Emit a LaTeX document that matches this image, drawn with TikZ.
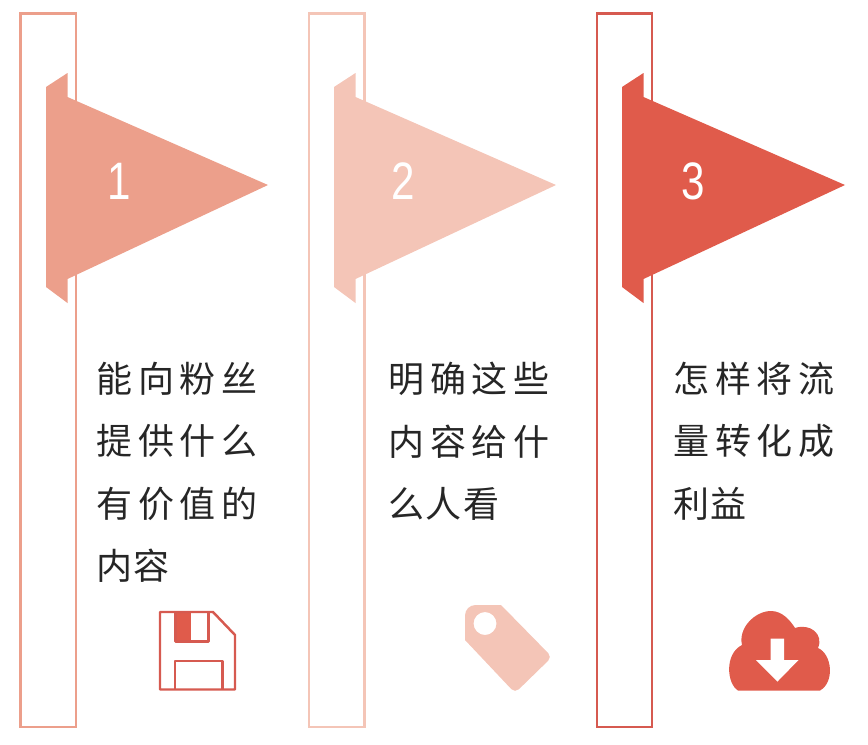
\documentclass[tikz,border=0pt]{standalone}
\usepackage{fontspec}
\newfontfamily\cjkfont[LetterSpace=16]{Noto Sans CJK SC}
\newfontfamily\cjktight[LetterSpace=4]{Noto Sans CJK SC}
\newfontfamily\numfont[FakeStretch=0.8]{Liberation Sans}
\definecolor{salmon}{HTML}{EC9F8B}
\definecolor{blush}{HTML}{F4C5B7}
\definecolor{brick}{HTML}{E05B4B}
\definecolor{brickline}{HTML}{D65A50}
\tikzset{
  pole/.style={draw=#1,line width=1.4pt},
  numlabel/.style={text=white,font=\numfont\fontsize{30}{30}\selectfont,inner sep=0pt},
  bodytext/.style={anchor=north west,align=left,inner sep=0pt,text=black!85,
    font=\cjkfont\fontsize{20.5}{35.4}\selectfont}
}
\begin{document}
\begin{tikzpicture}[x=0.02cm,y=-0.02cm]
        \useasboundingbox (0,0) rectangle (868,744);

        \draw[pole=salmon] (20.5,13.5) rectangle (76,727);
        \draw[pole=blush]  (309,13.5) rectangle (364.5,727);
        \draw[pole=brickline]  (597,13.5) rectangle (652,727);

        \fill[salmon] (46,87) -- (67.5,73) -- (67.5,97) -- (268,185) -- (67.5,279) -- (67.5,303) -- (46,287) -- cycle;
        \fill[blush]  (334,87) -- (355.5,73) -- (355.5,97) -- (556,185) -- (355.5,279) -- (355.5,303) -- (334,287) -- cycle;
        \fill[brick]  (622,87) -- (643.5,73) -- (643.5,97) -- (845,185) -- (643.5,279) -- (643.5,303) -- (622,287) -- cycle;

        \begin{scope}[every node/.style={numlabel}]
          \node (num1) at (119,181) {1};
          \node (num2) at (403,181) {2};
          \node (num3) at (693,181) {3};
        \end{scope}

        \begin{scope}[every node/.style={bodytext}]
          \node (text1) at (96,362) {能向粉丝\\提供什么\\有价值的\\{\cjktight 内容}};
          \node (text2) at (388,362) {明确这些\\内容给什\\{\cjktight 么人看}};
          \node (text3) at (673,362) {怎样将流\\量转化成\\{\cjktight 利益}};
        \end{scope}

        % disk
        \fill[brick] (175.5,612) rectangle (191,641.5);
        \draw[brickline,line width=1.4pt,line join=round] (160,612) -- (213,612) -- (235,635) -- (235,689.5) -- (160,689.5) -- cycle;
        \draw[brickline,line width=1.4pt,line join=round] (175.5,612) -- (175.5,641.5) -- (208.5,641.5) -- (208.5,612);
        \draw[brickline,line width=1.4pt,line join=round] (175,689.5) -- (175,661) -- (222.5,661) -- (222.5,689.5);

        % tag
        \fill[blush,even odd rule] (465,640) [rounded corners=6pt] -- (465,605) [sharp corners] -- (501,605)
          [rounded corners=3pt] -- (552,657) -- (515,693) [sharp corners] -- cycle
          (485,623.5) circle (11.5);

        % cloud
        \fill[brick] (738,690.5) .. controls (727,684) and (724,654) .. (742,645)
          .. controls (738,628) and (755,611) .. (771,611)
          .. controls (782,611) and (790,620) .. (795,628)
          .. controls (810,623) and (824,634) .. (818,648)
          .. controls (832,654) and (835,682) .. (820,690.5) -- cycle;
        \fill[white] (770.5,638.5) -- (784,638.5) -- (784,660) -- (798.5,660) -- (777.5,681.5) -- (756,660) -- (770.5,660) -- cycle;
\end{tikzpicture}
\end{document}
